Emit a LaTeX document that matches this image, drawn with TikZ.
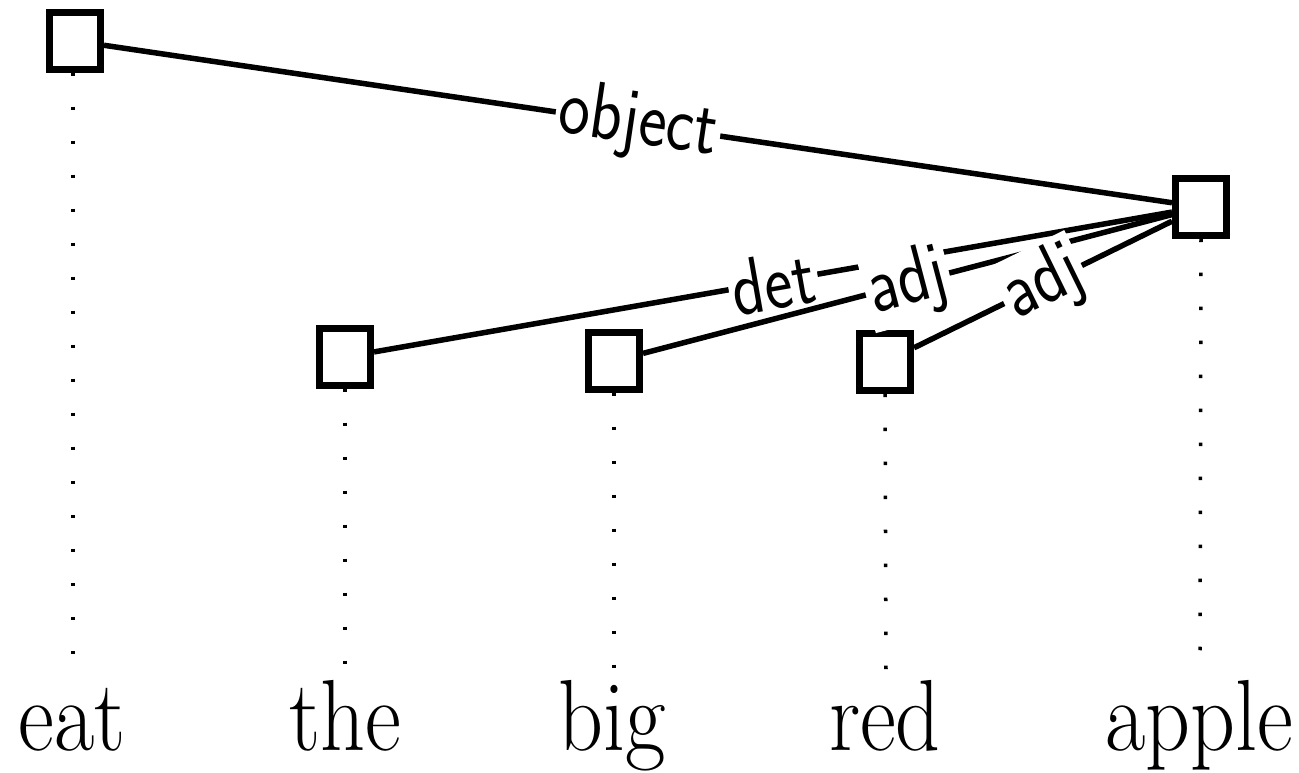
\documentclass[tikz,border=0pt]{standalone}
\begin{document}
\begin{tikzpicture}[x=0.01cm,y=-0.01cm,
  hbox/.style={draw,line width=0.07cm,minimum width=0.51cm,minimum height=0.56cm,inner sep=0pt,fill=white},
  word/.style={anchor=base,inner sep=0pt,font=\fontsize{25}{30}\selectfont},
  dep/.style={line width=0.055cm},
  lbl/.style={sloped,fill=white,inner sep=1pt,font=\fontsize{19}{22}\sffamily},
  dotline/.style={line width=0.035cm,dash pattern=on 0.035cm off 0.305cm,line cap=butt}]
\useasboundingbox (0,0) rectangle (1299,773);
\node[hbox] (beat) at (75,41) {};
\node[hbox] (bthe) at (345,357) {};
\node[hbox] (bbig) at (614,361) {};
\node[hbox] (bred) at (885,362) {};
\node[hbox] (bapple) at (1201,207) {};
\node[word] (weat) at (72,750) {\scalebox{1}[1.15]{eat}};
\node[word] (wthe) at (345,750) {\scalebox{1}[1.15]{the}};
\node[word] (wbig) at (612,750) {\scalebox{1}[1.15]{big}};
\node[word] (wred) at (885,750) {\scalebox{1}[1.15]{red}};
\node[word] (wapple) at (1199,750) {\scalebox{1}[1.15]{apple}};
\coordinate (deat) at (73,670);
\coordinate (dthe) at (345,670);
\coordinate (dbig) at (614,670);
\coordinate (dred) at (886,670);
\coordinate (dapple) at (1200,670);
\draw[dotline] (beat.south) ++(-2,0) -- (deat);
\draw[dotline] (bthe.south) -- (dthe);
\draw[dotline] (bbig.south) -- (dbig);
\draw[dotline] (bred.south) -- (dred);
\draw[dotline] (bapple.south) -- (dapple);
\draw[dep] (beat) -- node[lbl] {\scalebox{1}[1.2]{object}} (bapple);
\draw[dep] (bthe) -- node[lbl] {\scalebox{1}[1.2]{det}} (bapple);
\draw[dep] (bbig) -- node[lbl] {\scalebox{1}[1.2]{adj}} (bapple);
\draw[dep] (bred) -- node[lbl] {\scalebox{1}[1.2]{adj}} (bapple);
\end{tikzpicture}
\end{document}
